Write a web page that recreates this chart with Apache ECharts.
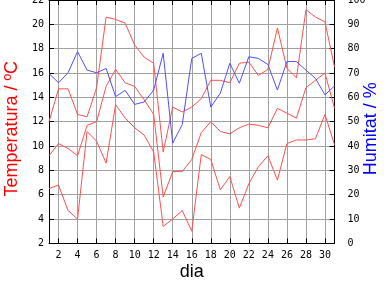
<!DOCTYPE html>
<html><head><meta charset="utf-8">
<script src="https://cdn.jsdelivr.net/npm/echarts@6/dist/echarts.min.js"></script>
<style>html,body{margin:0;padding:0;background:#fff}#c{width:384px;height:288px}</style>
</head><body><div id="c"></div>
<script>
const days = ['1','2','3','4','5','6','7','8','9','10','11','12','13','14','15','16','17','18','19','20','21','22','23','24','25','26','27','28','29','30','31'];
const xTickLabels = ['2','4','6','8','10','12','14','16','18','20','22','24','26','28','30'];
const tempTicks = [2,4,6,8,10,12,14,16,18,20,22];
const humTicks = [0,10,20,30,40,50,60,70,80,90,100];
const tMax  = [12.0,14.7,14.7,12.6,12.4,14.8,20.6,20.4,20.1,18.3,17.3,16.8,9.5,13.2,12.8,13.2,13.9,15.4,15.4,15.2,16.8,16.9,15.8,16.3,19.7,16.4,15.6,21.2,20.6,20.2,16.5];
const tMean = [9.2,10.2,9.8,9.2,11.7,12.0,14.9,16.3,15.2,14.9,13.8,12.6,5.8,7.9,7.9,8.9,11.1,12.0,11.2,11.0,11.5,11.8,11.7,11.5,13.1,12.7,12.3,14.8,15.4,16.0,13.1];
const tMin  = [6.5,6.8,4.7,4.0,11.2,10.4,8.6,13.4,12.3,11.5,10.9,9.5,3.4,4.0,4.7,3.0,9.3,8.9,6.4,7.5,4.9,6.9,8.3,9.2,7.2,10.2,10.5,10.5,10.6,12.6,10.1];
const hum   = [69.8,66.0,70.1,78.8,71.2,70.1,71.9,60.3,62.9,57.1,58.1,63.0,78.1,41.2,48.8,76.0,78.1,56.0,61.7,74.0,65.8,76.7,76.0,73.5,63.0,74.7,74.7,71.2,67.8,61.0,64.7];

const showX = (i, v) => xTickLabels.indexOf(days[i]) >= 0;
const mono = 'DejaVu Sans Mono';
const sans = 'Liberation Sans';
const chart = echarts.init(document.getElementById('c'), null, {renderer:'canvas'});
const lineStyleRed = {color:'#ff5050', width:1};
function tSeries(name, data){
  return {name, type:'line', data, xAxisIndex:0, yAxisIndex:0, symbol:'none', showSymbol:false,
    lineStyle:lineStyleRed, itemStyle:{color:'#ff5050'}, animation:false, z:3};
}
chart.setOption({
  animation:false,
  backgroundColor:'#ffffff',
  grid:{left:49, right:49.5, top:0, bottom:44.6, containLabel:false, outerBoundsMode:'none'},
  xAxis:[{
    type:'category', data:days, boundaryGap:false, position:'bottom',
    name:'dia', nameLocation:'middle', nameGap:20, nameMoveOverlap:false,
    nameTextStyle:{color:'#000', fontSize:18, fontFamily:sans},
    axisLine:{show:true, lineStyle:{color:'#000', width:1}},
    axisTick:{show:true, inside:true, length:5, interval:showX, lineStyle:{color:'#000'}},
    axisLabel:{show:true, interval:showX, color:'#000', fontSize:10, fontFamily:mono, margin:7},
    splitLine:{show:true, interval:showX, lineStyle:{color:'#a0a0a0', width:1, type:'solid'}}
  },{
    type:'category', data:days, boundaryGap:false, position:'top',
    axisLine:{show:true, lineStyle:{color:'#000', width:1}},
    axisTick:{show:true, inside:true, length:5, interval:showX, lineStyle:{color:'#000'}},
    axisLabel:{show:false}, splitLine:{show:false}
  }],
  yAxis:[{
    type:'value', position:'left', min:tempTicks[0], max:tempTicks[tempTicks.length-1], interval:2,
    name:'Temperatura / ºC', nameLocation:'middle', nameGap:28, nameRotate:90, nameMoveOverlap:false,
    nameTextStyle:{color:'#ff0000', fontSize:18, fontFamily:sans, padding:[0,14,0,0]},
    axisLine:{show:true, lineStyle:{color:'#000', width:1}},
    axisTick:{show:true, inside:true, length:5, lineStyle:{color:'#000'}},
    axisLabel:{show:true, color:'#000', fontSize:10, fontFamily:mono, margin:5},
    splitLine:{show:true, lineStyle:{color:'#a0a0a0', width:1, type:'solid'}}
  },{
    type:'value', position:'right', min:humTicks[0], max:humTicks[humTicks.length-1], interval:10,
    name:'Humitat / %', nameLocation:'middle', nameGap:28, nameRotate:90, nameMoveOverlap:false,
    nameTextStyle:{color:'#0000ff', fontSize:18, fontFamily:sans, padding:[0,14,0,0]},
    axisLine:{show:true, lineStyle:{color:'#000', width:1}},
    axisTick:{show:true, inside:true, length:5, lineStyle:{color:'#000'}},
    axisLabel:{show:true, color:'#000', fontSize:10, fontFamily:mono, margin:13},
    splitLine:{show:false}
  }],
  series:[
    tSeries('Tmax', tMax),
    tSeries('Tmitjana', tMean),
    tSeries('Tmin', tMin),
    {name:'Humitat', type:'line', data:hum, xAxisIndex:0, yAxisIndex:1, symbol:'none', showSymbol:false,
     lineStyle:{color:'#5050ff', width:1}, itemStyle:{color:'#5050ff'}, animation:false, z:4}
  ]
});
</script></body></html>
